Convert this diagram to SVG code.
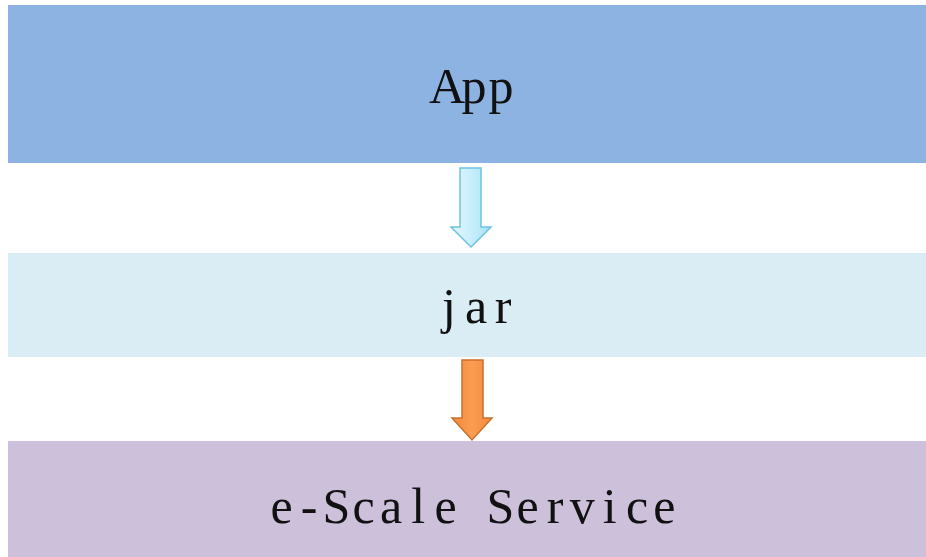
<svg xmlns="http://www.w3.org/2000/svg" width="926" height="557" viewBox="0 0 926 557">
  <style>
    /* fixed-pitch serif labels: each glyph is centred on its own cell */
    .label { font-family: "Liberation Serif", "DejaVu Serif", serif; font-size: 50px; fill: #111; text-anchor: middle; }
    .arrow { stroke-width: 1.5; stroke-linejoin: miter; }
  </style>
  <defs>
    <linearGradient id="gBlue" x1="0" y1="0" x2="1" y2="0">
      <stop offset="0" stop-color="#e4f6fd"/>
      <stop offset="0.5" stop-color="#c8eefb"/>
      <stop offset="1" stop-color="#a9e2f5"/>
    </linearGradient>
    <linearGradient id="gOrange" x1="0" y1="0" x2="1" y2="0">
      <stop offset="0" stop-color="#f48a3a"/>
      <stop offset="0.5" stop-color="#fa9d52"/>
      <stop offset="1" stop-color="#f28a3c"/>
    </linearGradient>
  </defs>
  <rect width="926" height="557" fill="#ffffff"/>

  <g id="app">
    <rect x="8" y="5" width="918" height="158" fill="#8db3e2"/>
    <text class="label" x="447 474 501" y="103">App</text>
  </g>

  <g id="jar">
    <rect x="8" y="253" width="918" height="104" fill="#dbedf4"/>
    <text class="label" x="449 476 503" y="323">jar</text>
  </g>

  <g id="escale">
    <rect x="8" y="441" width="918" height="116" fill="#ccc0da"/>
    <text class="label" x="281.7 309 336.3 363.7 391 418.3 445.7 473 500.3 527.7 555 582.3 609.7 637 664.3" y="523">e-Scale Service</text>
  </g>

  <g id="connectors">
    <path class="arrow" d="M460,168 H481 V227 H491 L471,247 L451,227 H460 Z" fill="url(#gBlue)" stroke="#6cc3df"/>
    <path class="arrow" d="M462,360 H483 V418 H492 L472,440 L452,418 H462 Z" fill="url(#gOrange)" stroke="#c8702c"/>
  </g>
</svg>
